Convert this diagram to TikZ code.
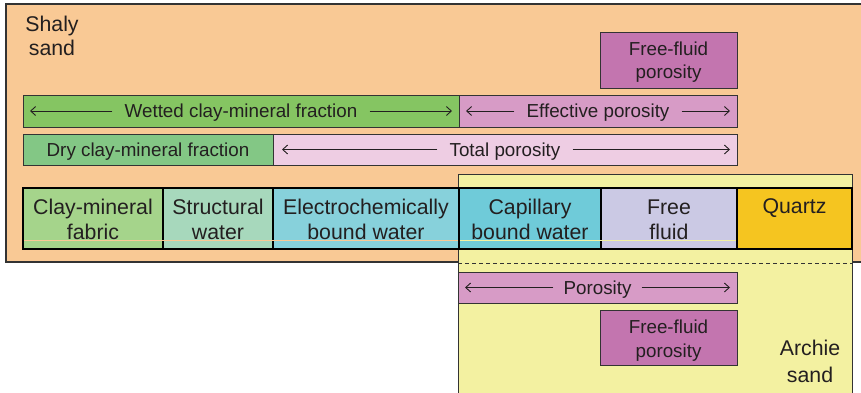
\documentclass[tikz,border=0pt]{standalone}
\usepackage{fontspec}
\setmainfont{Liberation Sans}
\usetikzlibrary{arrows.meta,calc}
\definecolor{bgc}{HTML}{F9C995}
\definecolor{wetc}{HTML}{85C562}
\definecolor{effc}{HTML}{D79BC6}
\definecolor{dryc}{HTML}{83C785}
\definecolor{totc}{HTML}{EECDE3}
\definecolor{ffc}{HTML}{C375AF}
\definecolor{clayc}{HTML}{A5D48B}
\definecolor{strc}{HTML}{A7D8BC}
\definecolor{elcc}{HTML}{87D1DB}
\definecolor{capc}{HTML}{6FCBD9}
\definecolor{frc}{HTML}{CBC9E4}
\definecolor{qzc}{HTML}{F5C520}
\definecolor{archc}{HTML}{F3F1A1}
\definecolor{edge}{HTML}{333333}
\definecolor{txt}{HTML}{231F20}
\begin{document}
\begin{tikzpicture}[x=1pt,y=-1pt,
  small/.style={font=\fontsize{18.8}{22}\selectfont},
  big/.style={font=\fontsize{21.3}{25}\selectfont},
  box/.style={draw=edge, line width=0.9pt, anchor=north west, inner sep=0pt, outer sep=0pt},
  cell/.style={draw=black, line width=1.5pt, anchor=north west, inner sep=0pt, outer sep=0pt, minimum height=61pt},
  barlbl/.style={small, text=txt, inner sep=0pt, text height=13.4pt, text depth=0pt},
  slbl/.style={small, text=txt, inner sep=0pt, anchor=base},
  blbl/.style={big, text=txt, inner sep=0pt, anchor=base},
  arr/.style={draw=txt, line width=0.9pt, -{Straight Barb[length=5pt,width=9pt]}},
]
\useasboundingbox (0,0) rectangle (861,392);
% outer regions
\node[box, fill=bgc, line width=1.2pt, minimum width=880pt, minimum height=258pt] (shaly) at (6,4) {};
\node[box, fill=archc, minimum width=394pt, minimum height=240pt] (arch) at (458,174) {};
\node[blbl] (shalyA) at (52,31) {Shaly};
\node[blbl] (shalyB) at (52,55) {sand};
\node[blbl] (archA) at (810,355) {Archie};
\node[blbl] (archB) at (810,382) {sand};
% bars
\node[box, fill=ffc, minimum width=137pt, minimum height=56pt] (ffa) at (600,32) {};
\node[slbl] (ffaA) at (668.5,55) {Free-fluid};
\node[slbl] (ffaB) at (668.5,78) {porosity};
\node[box, fill=wetc, minimum width=436pt, minimum height=32pt] (wet) at (23,95) {};
\node[box, fill=effc, minimum width=278pt, minimum height=32pt] (eff) at (459,95) {};
\node[box, fill=dryc, minimum width=250pt, minimum height=31pt] (dry) at (23,134) {};
\node[box, fill=totc, minimum width=464pt, minimum height=31pt] (tot) at (273,134) {};
\node[barlbl] (wett) at (wet.center) {Wetted clay-mineral fraction};
\node[barlbl] (efft) at (eff.center) {Effective porosity};
\node[barlbl] (dryt) at (dry.center) {Dry clay-mineral fraction};
\node[barlbl] (tott) at (tot.center) {Total porosity};
\draw[arr] ([xshift=-12pt]wett.west) -- ($(wett.west -| wet.west)+(7,0)$);
\draw[arr] ([xshift=12pt]wett.east) -- ($(wett.east -| wet.east)+(-7,0)$);
\draw[arr] ([xshift=-12pt]efft.west) -- ($(efft.west -| eff.west)+(7,0)$);
\draw[arr] ([xshift=12pt]efft.east) -- ($(efft.east -| eff.east)+(-7,0)$);
\draw[arr] ([xshift=-12pt]tott.west) -- ($(tott.west -| tot.west)+(9,0)$);
\draw[arr] ([xshift=12pt]tott.east) -- ($(tott.east -| tot.east)+(-7,0)$);
% row of cells
\node[cell, fill=clayc, minimum width=140pt] (clay) at (23,188) {};
\node[cell, fill=strc, minimum width=110pt] (str) at (163,188) {};
\node[cell, fill=elcc, minimum width=186pt] (elc) at (273,188) {};
\node[cell, fill=capc, minimum width=142pt] (cap) at (459,188) {};
\node[cell, fill=frc, minimum width=136pt] (fr) at (601,188) {};
\node[cell, fill=qzc, minimum width=115pt] (qz) at (737,188) {};
\draw[bgc, line width=0.8pt] (24,240.7) -- (458,240.7);
\draw[archc, line width=0.8pt] (460,240.7) -- (736,240.7);
\node[blbl] (clayA) at (93,214) {Clay-mineral};
\node[blbl] (clayB) at (93,239) {fabric};
\node[blbl] (strA) at (218,214) {Structural};
\node[blbl] (strB) at (218,239) {water};
\node[blbl] (elcA) at (366,214) {Electrochemically};
\node[blbl] (elcB) at (366,239) {bound water};
\node[blbl] (capA) at (530,214) {Capillary};
\node[blbl] (capB) at (530,239) {bound water};
\node[blbl] (frA) at (669,214) {Free};
\node[blbl] (frB) at (669,239) {fluid};
\node[blbl] (qzA) at (794.5,213) {Quartz};
% Archie part
\coordinate (dl) at (458,263);
\coordinate (dr) at (852,263);
\draw[edge, line width=0.9pt, dash pattern=on 4pt off 3pt] (dl) -- (dr);
\node[box, fill=effc, minimum width=279pt, minimum height=31pt] (por) at (458,272) {};
\node[barlbl] (port) at (por.center) {Porosity};
\draw[arr] ([xshift=-10pt]port.west) -- ($(port.west -| por.west)+(7,0)$);
\draw[arr] ([xshift=10pt]port.east) -- ($(port.east -| por.east)+(-7,0)$);
\node[box, fill=ffc, minimum width=137pt, minimum height=55pt] (ffb) at (600,310) {};
\node[slbl] (ffbA) at (668.5,333) {Free-fluid};
\node[slbl] (ffbB) at (668.5,357) {porosity};
\end{tikzpicture}
\end{document}
